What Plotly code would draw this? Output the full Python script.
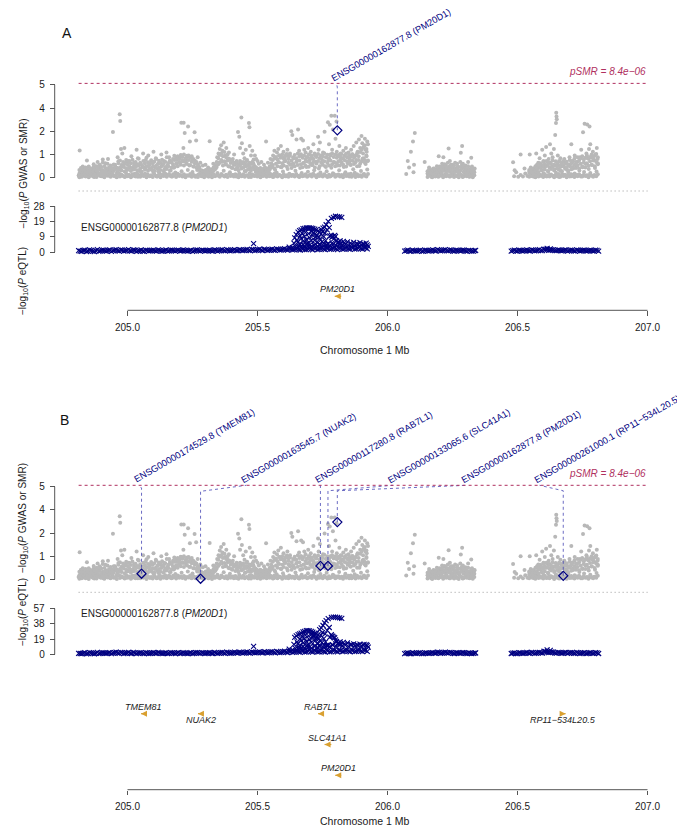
import math
import plotly.graph_objects as go

W, H = 685, 827
FONT = "Liberation Sans, Arial, Helvetica, sans-serif"
NAVY = "#000080"
GRAY = "#B8B8B8"
MAROON = "#B03060"
GOLD = "#D9A030"
AXC = "#555555"
TXT = "#1a1a1a"

# ------------------------------------------------------------------ data
p_smr_threshold = 8.4e-06
x_ticks = [205.0, 205.5, 206.0, 206.5, 207.0]
x_tick_labels = ["205.0", "205.5", "206.0", "206.5", "207.0"]
gwas_ticks = [0, 1.25, 2.5, 3.75, 5.0]
gwas_tick_labels = ["0", "1", "2", "4", "5"]
eqtl_a_ticks = [0, 9.33, 18.67, 28]
eqtl_a_tick_labels = ["0", "9", "19", "28"]
eqtl_b_ticks = [0, 19, 38, 57]
eqtl_b_tick_labels = ["0", "19", "38", "57"]

# GWAS (Mb, -log10 P), same SNPs in both panels
gwas_base1 = [(204.812,0.12),(204.818,0.38),(204.824,0.05),(204.830,0.29),(204.836,0.18),(204.842,0.44),(204.848,0.08),(204.854,0.33),
              (204.860,0.15),(204.866,0.41),(204.872,0.04),(204.878,0.27),(204.884,0.20),(204.890,0.48),(204.896,0.10),(204.902,0.36),
              (204.908,0.06),(204.914,0.31),(204.920,0.17),(204.926,0.45),(204.932,0.09),(204.938,0.39),(204.944,0.13),(204.950,0.50),
              (204.956,0.05),(204.962,0.34),(204.968,0.22),(204.974,0.47),(204.980,0.11),(204.986,0.58),(204.992,0.07),(204.998,0.42)]
gwas_base2 = [(205.004,0.15),(205.010,0.52),(205.016,0.08),(205.022,0.44),(205.028,0.21),(205.034,0.63),(205.040,0.05),(205.046,0.37),
              (205.052,0.26),(205.058,0.58),(205.064,0.12),(205.070,0.48),(205.076,0.18),(205.082,0.66),(205.088,0.09),(205.094,0.41),
              (205.100,0.30),(205.106,0.55),(205.112,0.06),(205.118,0.35),(205.124,0.23),(205.130,0.61),(205.136,0.14),(205.142,0.46),
              (205.148,0.10),(205.154,0.68),(205.160,0.20),(205.166,0.39),(205.172,0.07),(205.178,0.53),(205.184,0.28),(205.190,0.74),
              (205.196,0.16),(205.202,0.82),(205.208,0.35),(205.214,0.88),(205.220,0.12),(205.226,0.79),(205.232,0.42),(205.238,0.66),
              (205.244,0.09)]
gwas_base3 = [(205.250,0.31),(205.256,0.60),(205.262,0.05),(205.268,0.42),(205.274,0.18),(205.280,0.35),(205.286,0.08),(205.292,0.27),
              (205.298,0.14),(205.304,0.40),(205.310,0.06),(205.316,0.33),(205.322,0.20),(205.328,0.45),(205.334,0.10),(205.340,0.52),
              (205.346,0.25),(205.352,0.78),(205.358,0.13),(205.364,0.86),(205.370,0.38),(205.376,0.71),(205.382,0.09),(205.388,0.62),
              (205.394,0.30),(205.400,0.55),(205.406,0.15),(205.412,0.73),(205.418,0.07),(205.424,0.48),(205.430,0.24),(205.436,0.80),
              (205.442,0.11),(205.448,0.57),(205.454,0.35),(205.460,0.69),(205.466,0.04),(205.472,0.43),(205.478,0.19),(205.484,0.76),
              (205.490,0.12),(205.496,0.51)]
gwas_base4 = [(205.502,0.22),(205.508,0.45),(205.514,0.07),(205.520,0.36),(205.526,0.15),(205.532,0.49),(205.538,0.10),(205.544,0.30),
              (205.550,0.18),(205.556,0.62),(205.562,0.05),(205.568,0.41),(205.574,0.27),(205.580,0.84),(205.586,0.13),(205.592,0.56),
              (205.598,0.33),(205.604,0.88),(205.610,0.08),(205.616,0.47),(205.622,0.21),(205.628,0.72),(205.634,0.14),(205.640,0.64),
              (205.646,0.37),(205.652,0.90),(205.658,0.06),(205.664,0.52),(205.670,0.25),(205.676,0.79),(205.682,0.11),(205.688,0.58),
              (205.694,0.32),(205.700,0.94),(205.706,0.17),(205.712,0.68),(205.718,0.40),(205.724,0.86),(205.730,0.09),(205.736,0.49),
              (205.742,0.28),(205.748,0.97)]
gwas_base5 = [(205.754,0.13),(205.760,0.61),(205.766,0.35),(205.772,0.92),(205.778,0.07),(205.784,0.54),(205.790,0.24),(205.796,0.83),
              (205.802,0.15),(205.808,0.66),(205.814,0.40),(205.820,0.98),(205.826,0.10),(205.832,0.57),(205.838,0.30),(205.844,0.88),
              (205.850,0.19),(205.856,0.71),(205.862,0.05),(205.868,0.46),(205.874,0.27),(205.880,0.95),(205.886,0.12),(205.892,0.63),
              (205.898,0.36),(205.904,1.02),(205.910,0.20),(205.916,0.74),(205.922,0.44)]
gwas_base6 = [(206.157,0.12),(206.163,0.33),(206.169,0.05),(206.175,0.26),(206.181,0.17),(206.187,0.40),(206.193,0.08),(206.199,0.30),
              (206.205,0.21),(206.211,0.47),(206.217,0.10),(206.223,0.36),(206.229,0.15),(206.235,0.52),(206.241,0.06),(206.247,0.28),
              (206.253,0.19),(206.259,0.44),(206.265,0.09),(206.271,0.38),(206.277,0.23),(206.283,0.55),(206.289,0.04),(206.295,0.31),
              (206.301,0.14),(206.307,0.42),(206.313,0.07),(206.319,0.25),(206.325,0.18),(206.331,0.34)]
gwas_base7 = [(206.487,0.08),(206.495,0.30),(206.503,0.05),(206.512,0.15),(206.521,0.06),(206.530,0.22),(206.538,0.09),(206.546,0.35),
              (206.552,0.12),(206.558,0.48),(206.564,0.05),(206.570,0.28),(206.576,0.19),(206.582,0.55),(206.588,0.10),(206.594,0.40),
              (206.600,0.24),(206.606,0.62),(206.612,0.07),(206.618,0.33),(206.624,0.16),(206.630,0.58),(206.636,0.11),(206.642,0.45),
              (206.648,0.27),(206.654,0.68),(206.660,0.04),(206.666,0.37),(206.672,0.20),(206.678,0.60),(206.684,0.13),(206.690,0.43),
              (206.696,0.29),(206.702,0.71),(206.708,0.08),(206.714,0.50),(206.720,0.22),(206.726,0.65),(206.732,0.15),(206.738,0.39),
              (206.744,0.06),(206.750,0.56),(206.756,0.31),(206.762,0.74),(206.768,0.10),(206.774,0.47),(206.780,0.25),(206.786,0.69),
              (206.792,0.12),(206.798,0.52),(206.804,0.34),(206.809,0.78)]
gwas_upper1 = [(204.816,1.46),(204.844,0.92),(204.828,0.60),(204.870,0.72),(204.885,0.85),(204.895,0.63),(204.905,0.98),(204.915,0.78),
               (204.925,1.00),(204.944,2.46),(204.952,0.70),(204.962,1.10),(204.970,3.41),(204.972,3.05),(204.975,1.55),(204.980,1.30),
               (204.988,1.60),(204.995,0.85),(204.965,0.88)]
gwas_upper2 = [(205.005,0.90),(205.015,1.15),(205.025,0.80),(205.035,1.50),(205.040,1.05),(205.050,0.75),(205.060,1.30),(205.070,0.95),
               (205.080,1.20),(205.090,0.82),(205.100,1.40),(205.110,1.00),(205.120,0.78),(205.130,1.25),(205.140,0.90),(205.150,1.35),
               (205.160,1.10),(205.170,0.85),(205.180,1.18),(205.190,0.95),(205.200,1.05),(205.205,1.20),(205.207,2.96),(205.216,2.96),
               (205.215,1.60),(205.220,2.40),(205.225,1.00),(205.230,1.15),(205.233,2.75),(205.240,1.95),(205.245,1.10),(205.248,0.95)]
gwas_upper3 = [(205.258,2.45),(205.264,2.00),(205.270,1.10),(205.280,0.80),(205.290,0.65),(205.300,0.70),(205.316,1.96),(205.310,0.55),
               (205.330,0.75),(205.345,1.10),(205.350,1.30),(205.355,1.55),(205.360,1.75),(205.365,1.45),(205.370,1.90),(205.375,1.20),
               (205.380,1.60),(205.385,1.05),(205.390,1.35),(205.395,0.95),(205.405,1.00),(205.410,1.25),(205.420,0.90),(205.425,2.46),
               (205.430,2.20),(205.433,1.60),(205.438,3.24),(205.440,1.85),(205.445,1.30),(205.450,1.05),(205.455,1.50),(205.460,0.95),
               (205.467,2.95),(205.469,2.72),(205.470,1.70),(205.475,1.20),(205.480,1.45),(205.485,0.98),(205.490,1.20),(205.495,1.00),
               (205.500,0.90)]
gwas_upper4 = [(205.505,0.75),(205.515,0.85),(205.525,0.70),(205.533,1.95),(205.540,0.80),(205.550,1.00),(205.560,1.20),(205.565,1.45),
               (205.570,1.05),(205.575,1.35),(205.580,1.55),(205.585,1.20),(205.590,1.70),(205.595,1.10),(205.600,1.40),(205.605,1.00),
               (205.610,1.25),(205.615,1.50),(205.620,1.15),(205.625,1.30),(205.630,2.50),(205.634,2.30),(205.640,1.05),(205.656,2.60),
               (205.650,2.05),(205.668,2.10),(205.660,1.45),(205.675,2.00),(205.670,1.20),(205.680,1.50),(205.685,1.35),(205.690,1.10),
               (205.695,1.60),(205.700,1.25),(205.705,1.40),(205.710,1.05),(205.715,1.80),(205.720,1.30),(205.725,1.15),(205.733,2.20),
               (205.735,1.50),(205.740,1.90),(205.745,1.20)]
gwas_upper5 = [(205.752,1.35),(205.758,2.47),(205.765,1.10),(205.771,2.98),(205.775,1.80),(205.778,2.85),(205.780,1.25),(205.784,3.34),
               (205.787,1.50),(205.790,2.60),(205.797,3.34),(205.804,3.02),(205.800,2.10),(205.805,1.40),(205.810,1.15),(205.815,1.70),
               (205.820,1.30),(205.825,1.05),(205.830,1.45),(205.835,1.20),(205.840,1.60),(205.845,1.10),(205.850,1.35),(205.855,1.00),
               (205.860,1.50),(205.865,1.25),(205.870,1.70),(205.875,1.15),(205.880,1.90),(205.885,1.40),(205.890,2.05),(205.895,1.60),
               (205.900,2.24),(205.903,1.85),(205.906,1.30),(205.910,1.70),(205.913,2.10),(205.916,1.50),(205.919,1.20),(205.922,1.95),
               (205.924,0.90),(205.920,1.40),(205.912,0.95)]
gwas_upper6 = [(206.072,0.20),(206.078,0.90),(206.083,0.55),(206.090,1.40),(206.098,1.95),(206.105,2.40),(206.102,0.70),(206.143,0.85),
               (206.100,0.30),(206.160,0.55),(206.175,0.48),(206.197,1.16),(206.200,0.60),(206.210,0.75),(206.215,1.10),(206.225,0.65),
               (206.235,1.57),(206.240,0.90),(206.250,0.70),(206.260,0.80),(206.270,0.60),(206.282,1.34),(206.287,1.70),(206.290,0.75),
               (206.300,0.65),(206.310,0.85),(206.322,1.07),(206.325,0.60),(206.335,0.50)]
gwas_upper7 = [(206.483,0.83),(206.489,0.40),(206.512,1.25),(206.527,0.50),(206.547,1.25),(206.572,1.30),(206.580,0.80),(206.585,1.05),
               (206.590,0.70),(206.595,1.50),(206.600,0.90),(206.605,1.20),(206.610,1.65),(206.615,0.85),(206.620,1.00),(206.625,1.80),
               (206.630,1.30),(206.635,1.10),(206.640,1.55),(206.645,2.30),(206.649,3.49),(206.650,3.30),(206.651,3.15),(206.648,2.95),
               (206.655,1.20),(206.660,0.90),(206.665,1.05),(206.670,0.80),(206.680,1.00),(206.690,0.75),(206.700,1.10),(206.707,1.80),
               (206.710,0.90),(206.720,1.20),(206.730,0.85),(206.740,1.10),(206.745,1.50),(206.752,2.45),(206.758,2.90),(206.768,2.86),
               (206.777,2.75),(206.765,1.30),(206.770,1.05),(206.775,1.55),(206.780,1.80),(206.785,1.10),(206.790,1.40),(206.795,0.95),
               (206.800,1.25),(206.805,1.60),(206.808,1.00)]
# dense columns of SNPs (Mb, several -log10 P values at that position)
gwas_stack1 = [(204.815,(0.03,0.22,0.41)),(204.821,(0.16,0.35,0.52)),(204.827,(0.09,0.27,0.47)),(204.833,(0.21,0.40,0.18)),
               (204.839,(0.06,0.31,0.55)),(204.845,(0.14,0.24,0.45)),(204.851,(0.02,0.37,0.60)),(204.857,(0.19,0.29,0.50)),
               (204.863,(0.11,0.43,0.23)),(204.869,(0.07,0.33,0.57)),(204.875,(0.24,0.16,0.48)),(204.881,(0.04,0.39,0.62)),
               (204.887,(0.17,0.28,0.53)),(204.893,(0.12,0.45,0.70)),(204.899,(0.08,0.26,0.58)),(204.905,(0.20,0.41,0.82)),
               (204.911,(0.03,0.34,0.61)),(204.917,(0.15,0.22,0.49)),(204.923,(0.10,0.38,0.75)),(204.929,(0.23,0.30,0.56)),
               (204.935,(0.05,0.44,0.66)),(204.941,(0.18,0.27,0.52)),(204.947,(0.09,0.36,0.71)),(204.953,(0.13,0.47,0.60)),
               (204.959,(0.02,0.25,0.54)),(204.965,(0.20,0.42,0.78)),(204.971,(0.07,0.55,0.92)),(204.977,(0.16,0.39,0.68)),
               (204.983,(0.11,0.62,0.85)),(204.989,(0.04,0.33,0.74)),(204.995,(0.22,0.51,0.95)),(205.001,(0.08,0.44,0.70)),
               (205.007,(0.14,0.60,0.88)),(205.013,(0.03,0.36,0.77)),(205.019,(0.19,0.53,0.96)),(205.025,(0.10,0.46,0.66)),
               (205.031,(0.06,0.58,0.84)),(205.037,(0.24,0.40,0.72)),(205.043,(0.12,0.65,1.02)),(205.049,(0.05,0.49,0.81)),
               (205.055,(0.17,0.34,0.69)),(205.061,(0.09,0.57,0.90)),(205.067,(0.21,0.43,0.76)),(205.073,(0.02,0.62,1.08)),
               (205.079,(0.15,0.38,0.83)),(205.085,(0.08,0.52,0.71)),(205.091,(0.13,0.45,0.94)),(205.097,(0.04,0.59,0.78)),
               (205.103,(0.20,0.37,0.87)),(205.109,(0.11,0.63,1.05)),(205.115,(0.07,0.48,0.73)),(205.121,(0.18,0.55,0.91)),
               (205.127,(0.03,0.41,0.80)),(205.133,(0.14,0.66,0.97)),(205.139,(0.09,0.35,0.75)),(205.145,(0.22,0.58,0.86)),
               (205.151,(0.05,0.47,1.10)),(205.157,(0.16,0.61,0.79)),(205.163,(0.10,0.39,0.93)),(205.169,(0.06,0.54,0.82)),
               (205.175,(0.19,0.70,1.00)),(205.181,(0.12,0.58,0.95)),(205.187,(0.04,0.76,1.08)),(205.193,(0.21,0.62,1.15)),
               (205.199,(0.09,0.85,1.02)),(205.205,(0.15,0.70,1.22)),(205.211,(0.07,0.92,1.12)),(205.217,(0.18,0.66,1.25)),
               (205.223,(0.03,0.88,1.05)),(205.229,(0.13,0.74,1.18)),(205.235,(0.10,0.95,1.20)),(205.241,(0.20,0.68,1.10)),
               (205.247,(0.05,0.86,1.15)),(205.253,(0.16,0.60,1.00)),(205.259,(0.08,0.78,0.92)),(205.265,(0.12,0.55,0.85)),
               (205.271,(0.04,0.70,0.62)),(205.277,(0.19,0.45,0.58)),(205.283,(0.09,0.30,0.40)),(205.289,(0.14,0.24,0.37)),
               (205.295,(0.03,0.33,0.21)),(205.301,(0.17,0.28,0.42)),(205.307,(0.11,0.36,0.25)),(205.313,(0.06,0.22,0.39)),
               (205.319,(0.13,0.31,0.45)),(205.325,(0.02,0.26,0.40)),(205.331,(0.18,0.38,0.55)),(205.337,(0.08,0.45,0.68)),
               (205.343,(0.15,0.58,0.85)),(205.349,(0.10,0.72,1.05)),(205.355,(0.05,0.83,1.22)),(205.361,(0.20,0.95,1.30)),
               (205.367,(0.12,0.66,1.15)),(205.373,(0.07,0.88,1.38)),(205.379,(0.16,0.74,1.10)),(205.385,(0.04,0.92,1.25)),
               (205.391,(0.21,0.60,1.02)),(205.397,(0.09,0.79,0.95)),(205.403,(0.14,0.52,0.88)),(205.409,(0.06,0.68,0.80)),
               (205.415,(0.18,0.45,0.75)),(205.421,(0.11,0.58,0.82)),(205.427,(0.03,0.40,0.70)),(205.433,(0.15,0.63,0.90)),
               (205.439,(0.08,0.49,0.76)),(205.445,(0.19,0.55,0.85)),(205.451,(0.05,0.36,0.72)),(205.457,(0.13,0.61,0.88)),
               (205.463,(0.10,0.44,0.69)),(205.469,(0.22,0.57,0.80)),(205.475,(0.04,0.39,0.74)),(205.481,(0.16,0.53,0.86)),
               (205.487,(0.09,0.46,0.65)),(205.493,(0.12,0.31,0.58)),(205.499,(0.06,0.42,0.50)),(205.505,(0.18,0.27,0.44)),
               (205.511,(0.03,0.35,0.52)),(205.517,(0.14,0.22,0.40)),(205.523,(0.09,0.38,0.48)),(205.529,(0.20,0.29,0.55)),
               (205.535,(0.05,0.41,0.36)),(205.541,(0.12,0.25,0.50)),(205.547,(0.08,0.44,0.62)),(205.553,(0.17,0.55,0.78)),
               (205.559,(0.04,0.68,0.95)),(205.565,(0.21,0.49,1.05)),(205.571,(0.10,0.75,1.12)),(205.577,(0.06,0.62,0.98)),
               (205.583,(0.15,0.83,1.20)),(205.589,(0.11,0.57,1.08)),(205.595,(0.03,0.78,1.25)),(205.601,(0.19,0.66,1.02)),
               (205.607,(0.08,0.90,1.15)),(205.613,(0.13,0.59,1.28)),(205.619,(0.05,0.81,1.00)),(205.625,(0.17,0.70,1.18)),
               (205.631,(0.09,0.52,0.92)),(205.637,(0.14,0.76,1.10)),(205.643,(0.06,0.61,1.22)),(205.649,(0.20,0.85,1.05)),
               (205.655,(0.11,0.68,1.30)),(205.661,(0.04,0.92,1.15)),(205.667,(0.16,0.73,1.26)),(205.673,(0.08,0.56,1.08)),
               (205.679,(0.13,0.80,1.20)),(205.685,(0.18,0.64,0.98)),(205.691,(0.05,0.87,1.12)),(205.697,(0.10,0.59,1.25)),
               (205.703,(0.15,0.78,1.05)),(205.709,(0.07,0.69,1.18)),(205.715,(0.21,0.84,1.00)),(205.721,(0.12,0.55,1.22)),
               (205.727,(0.03,0.76,1.12)),(205.733,(0.17,0.90,1.28)),(205.739,(0.09,0.62,1.06)),(205.745,(0.14,0.81,1.20)),
               (205.751,(0.06,0.70,1.15)),(205.757,(0.19,0.88,1.32)),(205.763,(0.11,0.58,1.10)),(205.769,(0.04,0.79,1.24)),
               (205.775,(0.16,0.66,1.05)),(205.781,(0.08,0.93,1.20)),(205.787,(0.13,0.72,1.30)),(205.793,(0.20,0.85,1.12)),
               (205.799,(0.05,0.61,1.25)),(205.805,(0.10,0.77,1.08)),(205.811,(0.17,0.89,1.22)),(205.817,(0.07,0.65,1.15)),
               (205.823,(0.14,0.82,1.28)),(205.829,(0.03,0.71,1.05)),(205.835,(0.18,0.94,1.18)),(205.841,(0.09,0.60,1.30)),
               (205.847,(0.12,0.78,1.10)),(205.853,(0.06,0.86,1.22)),(205.859,(0.21,0.68,1.14)),(205.865,(0.10,0.91,1.26)),
               (205.871,(0.15,0.74,1.08)),(205.877,(0.04,0.83,1.20)),(205.883,(0.19,0.62,1.32)),(205.889,(0.08,0.95,1.15)),
               (205.895,(0.13,0.77,1.38)),(205.901,(0.05,0.88,1.50)),(205.907,(0.17,1.05,1.62)),(205.913,(0.11,0.80,1.75)),
               (205.919,(0.07,1.15,1.55)),(205.925,(0.20,0.92,1.80))]
gwas_stack2 = [(206.154,(0.04,0.22,0.35)),(206.160,(0.15,0.30,0.44)),(206.166,(0.09,0.38,0.27)),(206.172,(0.02,0.19,0.41)),
               (206.178,(0.12,0.33,0.50)),(206.184,(0.07,0.26,0.46)),(206.190,(0.18,0.42,0.62)),(206.196,(0.05,0.31,0.55)),
               (206.202,(0.11,0.45,0.38)),(206.208,(0.14,0.28,0.58)),(206.214,(0.03,0.37,0.66)),(206.220,(0.16,0.49,0.72)),
               (206.226,(0.08,0.24,0.52)),(206.232,(0.13,0.41,0.80)),(206.238,(0.06,0.35,0.60)),(206.244,(0.19,0.46,0.70)),
               (206.250,(0.10,0.29,0.56)),(206.256,(0.04,0.40,0.64)),(206.262,(0.15,0.33,0.48)),(206.268,(0.09,0.44,0.75)),
               (206.274,(0.02,0.27,0.58)),(206.280,(0.17,0.39,0.85)),(206.286,(0.12,0.48,0.68)),(206.292,(0.06,0.31,0.59)),
               (206.298,(0.14,0.42,0.52)),(206.304,(0.08,0.26,0.46)),(206.310,(0.18,0.36,0.62)),(206.316,(0.05,0.29,0.44)),
               (206.322,(0.11,0.38,0.55)),(206.328,(0.03,0.22,0.40)),(206.334,(0.13,0.30,0.47))]
gwas_stack3 = [(206.545,(0.05,0.25,0.42)),(206.551,(0.14,0.33,0.55)),(206.557,(0.08,0.41,0.30)),(206.563,(0.18,0.28,0.50)),
               (206.569,(0.03,0.37,0.62)),(206.575,(0.12,0.45,0.70)),(206.581,(0.07,0.31,0.58)),(206.587,(0.16,0.52,0.78)),
               (206.593,(0.10,0.40,0.66)),(206.599,(0.04,0.58,0.85)),(206.605,(0.19,0.44,0.72)),(206.611,(0.09,0.63,0.90)),
               (206.617,(0.13,0.36,0.68)),(206.623,(0.06,0.55,0.82)),(206.629,(0.17,0.47,0.75)),(206.635,(0.11,0.60,0.92)),
               (206.641,(0.02,0.39,0.70)),(206.647,(0.15,0.66,0.88)),(206.653,(0.08,0.50,0.79)),(206.659,(0.20,0.43,0.65)),
               (206.665,(0.05,0.57,0.84)),(206.671,(0.12,0.35,0.72)),(206.677,(0.09,0.61,0.90)),(206.683,(0.16,0.48,0.76)),
               (206.689,(0.03,0.54,0.86)),(206.695,(0.14,0.38,0.68)),(206.701,(0.07,0.62,0.95)),(206.707,(0.18,0.46,0.78)),
               (206.713,(0.10,0.58,0.88)),(206.719,(0.04,0.70,1.02)),(206.725,(0.15,0.52,0.85)),(206.731,(0.08,0.66,1.10)),
               (206.737,(0.19,0.49,0.92)),(206.743,(0.11,0.75,1.05)),(206.749,(0.06,0.60,1.15)),(206.755,(0.16,0.82,0.98)),
               (206.761,(0.09,0.55,1.08)),(206.767,(0.13,0.78,1.20)),(206.773,(0.03,0.64,1.02)),(206.779,(0.17,0.88,1.12)),
               (206.785,(0.10,0.70,1.25)),(206.791,(0.05,0.92,1.06)),(206.797,(0.14,0.61,1.18)),(206.803,(0.08,0.84,1.28)),
               (206.809,(0.19,0.73,1.10))]

# eQTL for ENSG00000162877.8 (PM20D1): (Mb, -log10 P panel A, -log10 P panel B)
eqtl_band1 = [(204.812,0.8,1.2),(204.824,0.4,0.9),(204.836,1.2,2.1),(204.848,0.6,1.0),(204.860,1.0,1.8),(204.872,0.3,0.7),
              (204.884,1.4,2.4),(204.896,0.7,1.3),(204.908,1.1,1.7),(204.920,0.5,1.1),(204.932,1.3,2.2),(204.944,0.8,1.5),
              (204.956,1.5,2.6),(204.968,0.6,1.2),(204.980,1.2,2.0),(204.992,0.9,1.4),(205.004,1.4,2.3),(205.016,0.5,1.0),
              (205.028,1.1,1.9),(205.040,0.7,1.4),(205.052,1.3,2.1),(205.064,0.4,0.9),(205.076,1.0,1.8),(205.088,0.8,1.3),
              (205.100,1.2,2.2),(205.112,0.6,1.1),(205.124,1.0,1.7),(205.136,0.5,1.0),(205.148,1.3,2.0),(205.160,0.7,1.2),
              (205.172,1.1,1.9),(205.184,0.6,1.0),(205.196,1.2,2.1),(205.208,0.8,1.4),(205.220,1.0,1.6),(205.232,0.5,0.9),
              (205.244,1.1,2.0),(205.256,0.7,1.3),(205.268,1.3,2.2),(205.280,0.6,1.1),(205.292,1.0,1.8),(205.304,0.8,1.4),
              (205.316,1.2,2.0),(205.328,0.6,1.0),(205.340,1.1,1.9),(205.352,0.9,1.5),(205.364,1.4,2.4),(205.376,0.7,1.2),
              (205.388,1.2,2.1),(205.400,0.9,1.6),(205.412,1.5,2.7),(205.424,0.8,1.4),(205.436,1.3,2.3),(205.448,1.0,1.8),
              (205.460,1.6,2.9),(205.472,0.9,1.5),(205.484,1.4,2.5),(205.496,1.1,2.0),(205.508,1.7,3.1),(205.520,0.9,1.7),
              (205.532,1.5,2.8),(205.544,1.2,2.2),(205.556,1.8,3.4),(205.568,1.0,1.9),(205.580,1.6,3.0),(205.592,1.3,2.4),
              (205.604,2.0,3.8),(205.616,1.1,2.1),(205.628,1.9,3.6),(205.640,1.4,2.7),(205.652,2.2,4.3),(205.664,1.2,2.3),
              (205.676,2.0,4.0),(205.688,1.5,3.0),(205.700,2.4,4.8),(205.712,1.3,2.6),(205.724,2.2,4.4),(205.736,1.6,3.2),
              (205.748,2.5,5.0),(205.760,1.4,2.8),(205.772,2.3,4.6),(205.784,1.7,3.4),(205.796,2.6,5.2),(205.808,1.5,3.0),
              (205.820,2.4,4.8),(205.832,1.8,3.6),(205.844,2.7,5.4),(205.856,1.6,3.2),(205.868,2.5,5.0),(205.880,1.9,3.8),
              (205.892,2.8,5.6),(205.904,1.7,3.4),(205.916,2.6,5.2),(205.485,5.1,10.0)]
eqtl_band1b = [(204.818,0.5,1.0),(204.830,1.0,1.6),(204.842,0.3,0.6),(204.854,1.3,2.2),(204.866,0.6,1.2),(204.878,0.9,1.5),
               (204.890,0.4,0.8),(204.902,1.2,2.0),(204.914,0.7,1.3),(204.926,1.0,1.9),(204.938,0.4,0.8),(204.950,1.1,2.1),
               (204.962,0.8,1.4),(204.974,1.3,2.4),(204.986,0.5,1.0),(204.998,1.0,1.8),(205.010,0.7,1.2),(205.022,1.3,2.3),
               (205.034,0.4,0.9),(205.046,0.9,1.7),(205.058,0.6,1.1),(205.070,1.2,2.2),(205.082,0.5,1.0),(205.094,1.0,1.9),
               (205.106,0.7,1.3),(205.118,1.3,2.3),(205.130,0.6,1.1),(205.142,0.9,1.6),(205.154,0.5,1.0),(205.166,1.2,2.1),
               (205.178,0.8,1.4),(205.190,1.0,1.8),(205.202,0.5,0.9),(205.214,1.3,2.2),(205.226,0.7,1.2),(205.238,0.9,1.7),
               (205.250,0.4,0.8),(205.262,1.1,2.0),(205.274,0.8,1.5),(205.286,1.2,2.1),(205.298,0.5,1.0),(205.310,1.0,1.8),
               (205.322,0.7,1.3),(205.334,1.3,2.4),(205.346,0.6,1.1),(205.358,1.1,2.0),(205.370,0.8,1.5),(205.382,1.4,2.6),
               (205.394,0.7,1.3),(205.406,1.2,2.1),(205.418,0.9,1.7),(205.430,1.5,2.8),(205.442,0.8,1.5),(205.454,1.3,2.4),
               (205.466,1.0,1.9),(205.478,1.6,3.0),(205.490,0.9,1.7),(205.502,1.4,2.6),(205.514,1.1,2.1),(205.526,1.8,3.3),
               (205.538,1.0,1.8),(205.550,1.5,2.9),(205.562,1.2,2.3),(205.574,1.9,3.6),(205.586,1.1,2.0),(205.598,1.7,3.2),
               (205.610,1.4,2.6),(205.622,2.1,4.1),(205.634,1.3,2.5),(205.646,2.0,3.9),(205.658,1.5,2.9),(205.670,2.3,4.5),
               (205.682,1.4,2.7),(205.694,2.1,4.2),(205.706,1.7,3.3),(205.718,2.5,4.9),(205.730,1.5,2.9),(205.742,2.3,4.6),
               (205.754,1.8,3.5),(205.766,2.6,5.1),(205.778,1.6,3.1),(205.790,2.4,4.8),(205.802,1.9,3.7),(205.814,2.7,5.3),
               (205.826,1.7,3.3),(205.838,2.5,5.0),(205.850,2.0,3.9),(205.862,2.8,5.5),(205.874,1.8,3.5),(205.886,2.6,5.2),
               (205.898,2.1,4.0),(205.910,2.9,5.7),(205.922,1.9,3.6)]
eqtl_raised1 = [(205.622,3.0,6.5),(205.634,2.6,5.5),(205.646,3.4,7.5),(205.658,2.8,6.0),(205.670,3.6,8.0),(205.682,3.1,7.0),
                (205.694,3.9,9.0),(205.706,3.3,7.5),(205.718,4.1,10.0),(205.730,3.5,8.5),(205.742,4.3,10.5),(205.754,3.7,9.0),
                (205.766,4.4,11.0),(205.778,3.8,9.5),(205.790,4.5,11.5),(205.802,4.0,10.0),(205.814,4.6,12.0),(205.826,3.9,10.5),
                (205.838,4.5,11.5),(205.850,4.1,10.0),(205.862,4.7,12.0),(205.874,4.0,10.5),(205.886,4.6,11.5),(205.898,4.2,10.0),
                (205.910,4.8,12.5),(205.922,4.3,11.0),(205.926,3.5,9.0)]
eqtl_peak1 = [(205.643,8.6,21.2),(205.649,10.6,23.0),(205.656,12.2,24.6),(205.662,13.1,25.5),(205.668,13.6,26.6),(205.675,14.3,28.0),
              (205.681,14.5,28.7),(205.688,14.7,29.5),(205.694,14.8,29.5),(205.700,14.7,29.2),(205.707,14.6,28.7),(205.713,14.4,27.8),
              (205.720,14.0,26.6),(205.726,13.6,25.8),(205.733,13.0,24.6),(205.739,12.2,30.8),(205.745,13.8,33.0),(205.752,14.6,36.0),
              (205.758,15.3,39.2),(205.764,16.7,42.0),(205.772,18.8,44.5),(205.784,20.6,46.2),(205.792,21.2,46.4),(205.800,21.9,46.6),
              (205.808,21.7,46.0),(205.816,21.5,45.5),(205.824,21.2,45.0),
              (205.655,6.0,13.0),(205.662,4.9,11.0),(205.668,8.3,17.5),(205.675,6.5,14.0),(205.681,9.6,20.0),(205.688,7.5,16.0),
              (205.694,5.5,12.0),(205.700,8.8,18.5),(205.707,6.8,15.0),(205.713,10.0,21.0),(205.720,7.2,16.5),(205.726,9.2,19.0),
              (205.733,5.8,13.5),(205.740,8.0,17.0),(205.748,6.2,14.5),(205.755,9.4,19.5),(205.762,7.0,15.5),(205.770,5.0,11.5),
              (205.778,9.8,21.5),(205.784,10.2,24.5),(205.790,9.6,22.5),(205.797,10.2,20.4),(205.804,7.0,16.0),(205.812,6.0,14.0),
              (205.820,5.3,12.5),(205.830,6.5,15.0)]
eqtl_peak1b = [(205.640,5.5,12.5),(205.652,7.2,15.5),(205.664,9.8,19.0),(205.672,11.5,22.5),(205.684,12.0,24.0),(205.696,11.2,23.0),
               (205.708,12.5,25.0),(205.716,11.8,23.5),(205.728,10.5,21.5),(205.736,9.0,19.5),(205.744,11.0,24.0),(205.750,12.4,27.0),
               (205.760,11.5,25.5),(205.768,13.5,30.0),(205.776,15.0,33.5),(205.786,9.0,23.0),(205.794,8.2,21.0),(205.800,9.4,18.0),
               (205.808,5.8,13.5),(205.818,6.8,15.5),(205.834,5.6,12.8),(205.846,6.2,14.2),(205.858,5.4,12.0),(205.870,5.9,13.0),
               (205.882,5.2,11.8),(205.894,5.7,12.6),(205.906,5.0,11.5),(205.918,5.5,12.2),(205.660,3.8,8.5),(205.676,4.6,9.8),
               (205.690,5.2,11.0),(205.702,4.4,9.5),(205.722,5.0,10.8),(205.738,4.7,10.2),(205.756,5.3,11.4),(205.772,4.9,10.6),
               (205.788,5.6,12.2)]
eqtl_band2 = [(206.066,0.5,0.9),(206.078,1.1,1.8),(206.090,0.4,0.7),(206.102,0.9,1.6),(206.114,0.6,1.1),(206.126,1.2,2.0),
              (206.138,0.5,0.8),(206.150,1.0,1.7),(206.162,0.7,1.2),(206.174,1.3,2.2),(206.186,0.6,1.3),(206.198,1.1,2.4),
              (206.210,0.8,1.5),(206.222,1.4,2.6),(206.234,0.7,1.4),(206.246,1.2,2.1),(206.258,0.5,1.0),(206.270,1.0,1.8),
              (206.282,0.6,1.2),(206.294,1.1,2.0),(206.306,0.4,0.9),(206.318,0.9,1.6),(206.330,0.6,1.1),(206.339,1.0,1.7),
              (206.072,0.8,1.4),(206.084,0.5,1.0),(206.096,1.2,2.1),(206.108,0.7,1.2),(206.120,0.9,1.7),(206.132,0.4,0.8),
              (206.144,1.1,1.9),(206.156,0.6,1.1),(206.168,1.0,1.8),(206.180,0.8,1.5),(206.192,1.4,2.7),(206.204,0.7,1.3),
              (206.216,1.2,2.2),(206.228,0.9,1.8),(206.240,1.3,2.5),(206.252,0.6,1.2),(206.264,1.1,2.0),(206.276,0.8,1.4),
              (206.288,1.2,2.1),(206.300,0.7,1.3),(206.312,1.0,1.9),(206.324,0.5,1.0),(206.336,0.8,1.5)]
eqtl_band3 = [(206.476,0.6,1.0),(206.488,1.1,1.9),(206.500,0.5,0.8),(206.512,1.0,1.7),(206.524,0.7,1.2),(206.536,1.3,2.3),
              (206.548,0.6,1.1),(206.560,1.2,2.0),(206.572,0.8,1.4),(206.584,1.4,2.5),(206.596,0.9,1.6),(206.608,1.6,3.2),
              (206.620,1.0,2.0),(206.632,1.5,2.9),(206.644,0.8,1.5),(206.656,1.3,2.4),(206.668,0.7,1.3),(206.680,1.2,2.2),
              (206.692,0.6,1.1),(206.704,1.1,2.0),(206.716,0.7,1.3),(206.728,1.3,2.3),(206.740,0.6,1.0),(206.752,1.1,1.9),
              (206.764,0.5,0.9),(206.776,1.0,1.8),(206.788,0.7,1.2),(206.800,1.2,2.1),(206.812,0.6,1.0),(206.614,2.2,5.5),
              (206.626,1.9,4.8),
              (206.482,0.9,1.6),(206.494,0.5,0.9),(206.506,1.2,2.1),(206.518,0.6,1.1),(206.530,1.0,1.8),(206.542,0.8,1.4),
              (206.554,1.3,2.4),(206.566,0.7,1.2),(206.578,1.1,2.0),(206.590,0.9,1.7),(206.602,1.8,3.8),(206.614,1.4,2.8),
              (206.626,1.2,2.4),(206.638,1.3,2.6),(206.650,0.9,1.6),(206.662,1.1,2.0),(206.674,0.8,1.5),(206.686,1.3,2.3),
              (206.698,0.9,1.7),(206.710,1.2,2.1),(206.722,0.6,1.1),(206.734,1.0,1.9),(206.746,0.8,1.4),(206.758,1.2,2.2),
              (206.770,0.7,1.2),(206.782,1.1,2.0),(206.794,0.6,1.1),(206.806,1.0,1.8)]

# SMR probes
smr_a_probe = ["ENSG00000162877.8"]
smr_a_gene = ["PM20D1"]
smr_a_mb = [205.807]
smr_a_logp = [2.55]
smr_a_label_mb = [205.804]
smr_a_elbow = [4.86]

smr_b_probe = ["ENSG00000174529.8", "ENSG00000163545.7", "ENSG00000117280.8",
               "ENSG00000133065.6", "ENSG00000162877.8", "ENSG00000261000.1"]
smr_b_gene = ["TMEM81", "NUAK2", "RAB7L1", "SLC41A1", "PM20D1", "RP11\u2212534L20.5"]
smr_b_mb = [205.054, 205.281, 205.742, 205.771, 205.807, 206.676]
smr_b_logp = [0.30, 0.03, 0.72, 0.72, 3.09, 0.19]
smr_b_label_mb = [205.044, 205.457, 205.742, 206.021, 206.303, 206.585]
smr_b_elbow = [4.93, 4.75, 4.95, 4.78, 4.78, 4.78]

# genes
genes_a_name = ["PM20D1"]
genes_a_start = [205.797]
genes_a_end = [205.822]
genes_a_strand = ["-"]
genes_a_row = [0]
genes_a_side = ["above"]

genes_b_name = ["TMEM81", "NUAK2", "RAB7L1", "SLC41A1", "PM20D1", "RP11\u2212534L20.5"]
genes_b_start = [205.052, 205.271, 205.733, 205.758, 205.799, 206.668]
genes_b_end = [205.068, 205.294, 205.752, 205.784, 205.822, 206.685]
genes_b_strand = ["-", "-", "-", "-", "-", "+"]
genes_b_row = [0, 0, 0, 1, 2, 0]
genes_b_side = ["above", "below", "above", "above", "above", "below"]

# ------------------------------------------------------------------ assemble
gwas_pairs = (gwas_base1 + gwas_base2 + gwas_base3 + gwas_base4 + gwas_base5 + gwas_base6 + gwas_base7 +
              gwas_upper1 + gwas_upper2 + gwas_upper3 + gwas_upper4 + gwas_upper5 + gwas_upper6 + gwas_upper7)
for mb, vals in gwas_stack1 + gwas_stack2 + gwas_stack3:
    gwas_pairs += [(mb, v) for v in vals]
gwas_x = [p[0] for p in gwas_pairs]
gwas_y = [p[1] for p in gwas_pairs]
eqtl_all = eqtl_band1 + eqtl_band1b + eqtl_raised1 + eqtl_peak1 + eqtl_peak1b + eqtl_band2 + eqtl_band3
eqtl_x = [p[0] for p in eqtl_all]
eqtl_a = [p[1] for p in eqtl_all]
eqtl_b = [p[2] for p in eqtl_all]

thresh = -math.log10(p_smr_threshold)
x_min = min(gwas_x)


def PY(px):
    return 1 - px / H


def PX(px):
    return px / W


def yrange(top_px, bot_px, zero_px, unit_px):
    return [(zero_px - bot_px) / unit_px, (zero_px - top_px) / unit_px]


X0_PX, X_UNIT = 119.5, 260.0
x_range = [205.0 - X0_PX / X_UNIT, 205.0 + (W - X0_PX) / X_UNIT]
YAX_PX = 46.7


def xaxis(pos_px):
    return dict(domain=[0, 1], range=x_range, anchor="free", position=PY(pos_px),
                tickmode="array", tickvals=x_ticks, ticktext=x_tick_labels,
                ticks="outside", ticklen=4.5, tickwidth=1, tickcolor=AXC,
                showline=False, showgrid=False, zeroline=False,
                tickfont=dict(family=FONT, size=10, color=TXT), ticklabelstandoff=3)


def yaxis(top_px, bot_px, zero_px, unit_px, tv, tt):
    return dict(domain=[PY(bot_px), PY(top_px)], range=yrange(top_px, bot_px, zero_px, unit_px),
                anchor="free", position=PX(YAX_PX), tickmode="array", tickvals=tv, ticktext=tt,
                ticks="outside", ticklen=5, tickwidth=1, tickcolor=AXC,
                showline=False, showgrid=False, zeroline=False,
                tickfont=dict(family=FONT, size=10, color=TXT), ticklabelstandoff=3)


def hidden_yaxis(top_px, bot_px, zero_px, unit_px):
    lo, hi = yrange(top_px, bot_px, zero_px, unit_px)
    return dict(domain=[PY(bot_px), PY(top_px)], range=[-lo, -hi], anchor="free", position=0,
                showticklabels=False, ticks="", showline=False, showgrid=False, zeroline=False)


A = dict(gw=(8, 180, 169.7, (169.7 - 76.8) / 5.0), eq=(186, 254, 244.0, (244.0 - 198.3) / 28.0),
         gn=(262, 298, 288.3, 30.8), xax=302.3)
B = dict(gw=(400, 580, 571.3, (571.3 - 478.7) / 5.0), eq=(588, 655, 646.3, (646.3 - 600.7) / 57.0),
         gn=(660, 778, 705.7, 30.8), xax=781.7)

fig = go.Figure()
shapes, annotations = [], []


def panel(xr, ya_g, ya_e, ya_n, P, eq_vals, eq_ticks, probes, genes, letter, letter_px,
          eq_label_px, titles_px, sep_px):
    fig.add_trace(go.Scatter(x=gwas_x, y=gwas_y, xaxis=xr, yaxis=ya_g, mode="markers",
                             marker=dict(size=4, color=GRAY, line=dict(width=0)),
                             cliponaxis=False, showlegend=False, hoverinfo="skip"))
    fig.add_trace(go.Scatter(x=eqtl_x, y=eq_vals, xaxis=xr, yaxis=ya_e, mode="markers",
                             marker=dict(size=5, symbol="x-thin", color=NAVY, line=dict(width=1.1, color=NAVY)),
                             cliponaxis=False, showlegend=False, hoverinfo="skip"))
    pmb, plogp, plab, pelb, pprobe, pgene = probes
    cx, cy = [], []
    for i in range(len(pmb)):
        cx += [pmb[i], pmb[i], plab[i], None]
        cy += [plogp[i], pelb[i], thresh, None]
    fig.add_trace(go.Scatter(x=cx, y=cy, xaxis=xr, yaxis=ya_g, mode="lines",
                             line=dict(color="rgba(70,70,180,0.8)", width=1, dash="dot"),
                             showlegend=False, hoverinfo="skip"))
    fig.add_trace(go.Scatter(x=pmb, y=plogp, xaxis=xr, yaxis=ya_g, mode="markers",
                             marker=dict(size=7, symbol="diamond-open", color=NAVY, line=dict(width=1.2, color=NAVY)),
                             cliponaxis=False, showlegend=False, hoverinfo="skip"))
    for i in range(len(pmb)):
        annotations.append(dict(x=plab[i], y=thresh, xref=xr, yref=ya_g, text=f"{pprobe[i]} ({pgene[i]})",
                                showarrow=False, textangle=-30, xanchor="left", yanchor="bottom",
                                xshift=-8, yshift=-1, borderpad=0,
                                font=dict(family=FONT, size=9.3, color=NAVY)))
    shapes.append(dict(type="line", xref=xr, yref=ya_g, x0=x_min, x1=x_ticks[-1], y0=thresh, y1=thresh,
                       line=dict(color=MAROON, width=1, dash="3px,3px")))
    annotations.append(dict(x=x_ticks[-1], y=thresh, xref=xr, yref=ya_g, text="<i>pSMR = 8.4e\u221206</i>",
                            showarrow=False, xanchor="right", yanchor="middle", yshift=12,
                            font=dict(family=FONT, size=10, color=MAROON)))
    shapes.append(dict(type="line", xref=xr, yref="paper", x0=x_min, x1=x_ticks[-1], y0=PY(sep_px), y1=PY(sep_px),
                       line=dict(color="#9a9a9a", width=1, dash="1px,3px")))
    shapes.append(dict(type="line", xref="paper", yref=ya_g, x0=PX(YAX_PX), x1=PX(YAX_PX), y0=0, y1=gwas_ticks[-1],
                       line=dict(color=AXC, width=1)))
    shapes.append(dict(type="line", xref="paper", yref=ya_e, x0=PX(YAX_PX), x1=PX(YAX_PX), y0=0, y1=eq_ticks[-1],
                       line=dict(color=AXC, width=1)))
    shapes.append(dict(type="line", xref=xr, yref="paper", x0=x_ticks[0], x1=x_ticks[-1],
                       y0=PY(P["xax"]), y1=PY(P["xax"]), line=dict(color=AXC, width=1)))
    gname, gstart, gend, gstrand, grow, gside = genes
    bx, by, hx, hy, hs = [], [], [], [], []
    for i in range(len(gname)):
        bx += [gstart[i], gend[i], None]
        by += [grow[i], grow[i], None]
        hx.append(gstart[i] if gstrand[i] == "-" else gend[i])
        hy.append(grow[i])
        hs.append("arrow-left" if gstrand[i] == "-" else "arrow-right")
        annotations.append(dict(x=(gstart[i] + gend[i]) / 2, y=grow[i], xref=xr, yref=ya_n,
                                text=f"<i>{gname[i]}</i>", showarrow=False,
                                yshift=7 if gside[i] == "above" else -6,
                                font=dict(family=FONT, size=9, color=TXT)))
    fig.add_trace(go.Scatter(x=bx, y=by, xaxis=xr, yaxis=ya_n, mode="lines",
                             line=dict(color=GOLD, width=1.2), showlegend=False, hoverinfo="skip"))
    fig.add_trace(go.Scatter(x=hx, y=hy, xaxis=xr, yaxis=ya_n, mode="markers",
                             marker=dict(symbol=hs, size=6, color=GOLD, line=dict(width=0)),
                             cliponaxis=False, showlegend=False, hoverinfo="skip"))
    annotations.append(dict(x=PX(letter_px[0]), y=PY(letter_px[1]), xref="paper", yref="paper", text=letter,
                            showarrow=False, font=dict(family=FONT, size=14, color="#111")))
    annotations.append(dict(x=PX(eq_label_px[0]), y=PY(eq_label_px[1]), xref="paper", yref="paper",
                            text="ENSG00000162877.8 (<i>PM20D1</i>)", showarrow=False, xanchor="left",
                            font=dict(family=FONT, size=10, color=TXT)))
    annotations.append(dict(x=PX(7), y=PY(titles_px[0]), xref="paper", yref="paper", textangle=-90,
                            text="\u2212log<sub>10</sub>(<i>P</i> GWAS or SMR)", showarrow=False,
                            font=dict(family=FONT, size=10, color=TXT)))
    annotations.append(dict(x=PX(7), y=PY(titles_px[1]), xref="paper", yref="paper", textangle=-90,
                            text="\u2212log<sub>10</sub>(<i>P</i> eQTL)", showarrow=False,
                            font=dict(family=FONT, size=10, color=TXT)))
    annotations.append(dict(x=PX(356), y=PY(titles_px[2]), xref="paper", yref="paper",
                            text="Chromosome 1 Mb", showarrow=False,
                            font=dict(family=FONT, size=10.5, color=TXT)))


panel("x", "y", "y2", "y3", A, eqtl_a, eqtl_a_ticks,
      (smr_a_mb, smr_a_logp, smr_a_label_mb, smr_a_elbow, smr_a_probe, smr_a_gene),
      (genes_a_name, genes_a_start, genes_a_end, genes_a_strand, genes_a_row, genes_a_side),
      "A", (52, 15), (70.7, 211.7), (108.5, 237, 341.7), 183)
panel("x2", "y4", "y5", "y6", B, eqtl_b, eqtl_b_ticks,
      (smr_b_mb, smr_b_logp, smr_b_label_mb, smr_b_elbow, smr_b_probe, smr_b_gene),
      (genes_b_name, genes_b_start, genes_b_end, genes_b_strand, genes_b_row, genes_b_side),
      "B", (50, 412), (70.7, 613.3), (510, 640, 821.0), 584.3)

fig.update_layout(
    width=W, height=H, margin=dict(l=0, r=0, t=0, b=0),
    paper_bgcolor="white", plot_bgcolor="white", showlegend=False,
    font=dict(family=FONT, size=10, color=TXT),
    xaxis=xaxis(A["xax"]), xaxis2=xaxis(B["xax"]),
    yaxis=yaxis(*A["gw"], gwas_ticks, gwas_tick_labels),
    yaxis2=yaxis(*A["eq"], eqtl_a_ticks, eqtl_a_tick_labels),
    yaxis3=hidden_yaxis(*A["gn"]),
    yaxis4=yaxis(*B["gw"], gwas_ticks, gwas_tick_labels),
    yaxis5=yaxis(*B["eq"], eqtl_b_ticks, eqtl_b_tick_labels),
    yaxis6=hidden_yaxis(*B["gn"]),
    shapes=shapes, annotations=annotations,
)
fig.write_html("out.html")
